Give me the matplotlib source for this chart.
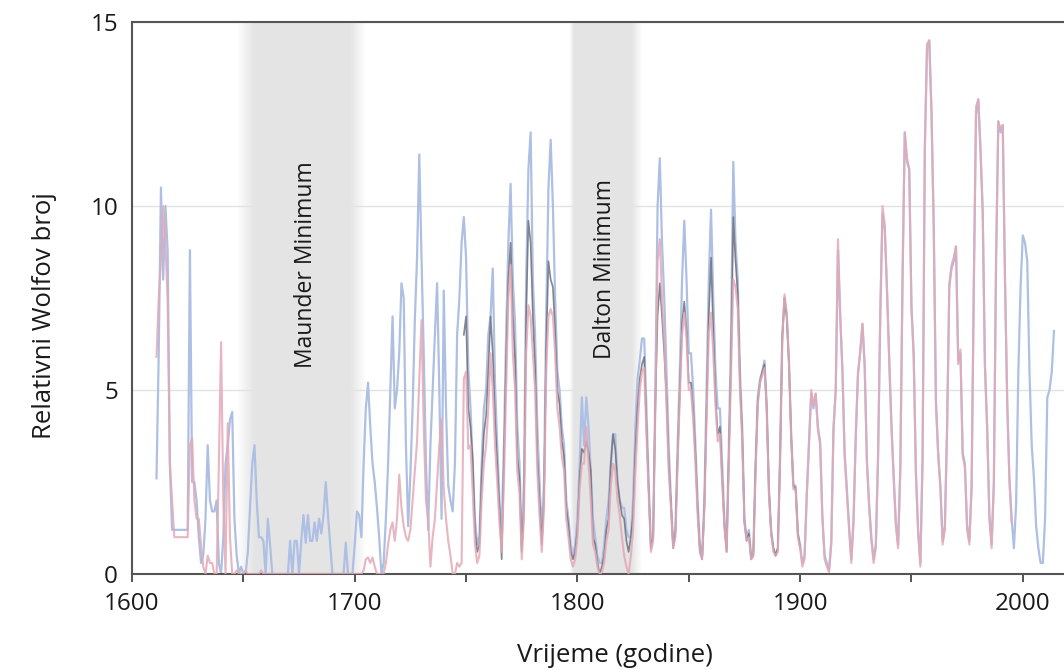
import numpy as np
import matplotlib
matplotlib.use("Agg")
import matplotlib.pyplot as plt

plt.rcParams['font.family'] = ['Open Sans', 'DejaVu Sans']

# group number, blue line, yearly, 1611-2014
plava = [
    2.6, 6.0, 10.5, 8.0, 10.0, 8.8, 3.0, 1.2, 1.2,            # 1611-1619
    1.2, 1.2, 1.2, 1.2, 1.2, 1.2, 8.8, 2.5, 2.5, 2.0,         # 1620
    1.0, 0.3, 0.5, 1.5, 3.5, 2.0, 1.7, 1.7, 2.0, 0.3,         # 1630
    0.0, 1.0, 3.0, 3.5, 4.2, 4.4, 1.5, 0.5, 0.0, 0.2,         # 1640
    0.0, 0.0, 0.6, 1.8, 3.0, 3.5, 2.0, 1.0, 1.0, 0.9,         # 1650
    0.0, 1.5, 0.8, 0.0, 0.0, 0.0, 0.0, 0.0, 0.0, 0.0,         # 1660
    0.0, 0.9, 0.0, 0.9, 0.9, 0.0, 0.9, 1.6, 0.85, 1.6,        # 1670
    0.9, 0.9, 1.4, 0.9, 1.5, 1.1, 1.6, 2.5, 1.6, 0.8,         # 1680
    0.0, 0.0, 0.0, 0.0, 0.0, 0.0, 0.85, 0.0, 0.0, 0.0,        # 1690
    0.8, 1.7, 1.6, 1.0, 3.0, 4.5, 5.2, 4.0, 3.0, 2.5,         # 1700
    1.8, 1.0, 0.0, 0.3, 1.5, 3.0, 5.0, 7.0, 4.5, 5.0,         # 1710
    6.0, 7.9, 7.5, 3.5, 1.3, 2.7, 4.5, 6.9, 8.6, 11.4,        # 1720
    8.6, 6.0, 3.0, 1.2, 3.5, 5.0, 6.5, 7.9, 5.0, 1.5,         # 1730
    7.7, 4.5, 2.4, 2.0, 1.7, 3.0, 6.5, 7.5, 9.0, 9.7,         # 1740
    8.6, 5.6, 4.5, 3.0, 1.5, 0.8, 1.0, 3.0, 4.5, 5.0,         # 1750
    6.5, 7.0, 8.3, 5.2, 3.5, 2.0, 1.2, 3.5, 6.5, 9.0,         # 1760
    10.6, 8.0, 6.8, 4.0, 3.0, 0.8, 2.5, 8.0, 11.0, 12.0,      # 1770
    8.0, 6.5, 4.0, 2.5, 1.0, 2.5, 7.0, 10.5, 11.8, 10.0,      # 1780
    7.5, 5.5, 5.0, 4.0, 3.5, 2.0, 1.5, 0.8, 0.5, 0.8,         # 1790
    1.5, 3.0, 4.8, 3.5, 4.8, 4.0, 2.8, 1.5, 1.0, 0.5,         # 1800
    0.3, 0.3, 0.8, 1.5, 2.0, 3.0, 3.8, 3.8, 2.5, 2.0,         # 1810
    1.8, 1.8, 1.2, 1.0, 1.0, 2.0, 4.0, 5.3, 5.8, 6.4,         # 1820
    6.4, 4.5, 2.5, 0.8, 1.0, 5.0, 10.0, 11.3, 9.0, 7.5,       # 1830
    5.5, 3.5, 2.0, 0.8, 1.2, 3.5, 5.5, 8.0, 9.6, 8.0,         # 1840
    6.0, 6.0, 5.0, 3.5, 2.0, 0.8, 0.5, 2.0, 5.0, 8.0,         # 1850
    9.9, 7.5, 5.5, 4.5, 4.5, 3.0, 1.5, 0.7, 3.5, 6.5,         # 1860
    11.2, 9.0, 8.0, 5.5, 4.0, 1.5, 1.0, 1.2, 0.5, 0.6,        # 1870
    3.0, 4.8, 5.3, 5.5, 5.8, 4.6, 2.3, 1.2, 0.7, 0.5,         # 1880
    0.7, 3.2, 6.5, 7.5, 7.0, 5.8, 3.8, 2.4, 2.4, 1.1,         # 1890
    0.8, 0.3, 0.5, 2.2, 3.6, 4.9, 4.5, 4.9, 4.0, 3.6,         # 1900
    1.6, 0.5, 0.3, 0.1, 0.9, 4.0, 5.0, 8.8, 7.0, 5.5,         # 1910
    3.3, 2.3, 1.3, 0.4, 1.5, 3.8, 5.5, 6.0, 6.8, 5.7,         # 1920
    3.1, 1.9, 1.0, 0.4, 0.8, 3.2, 7.0, 9.8, 9.4, 7.7,         # 1930
    5.9, 4.1, 2.7, 1.4, 0.8, 2.9, 8.0, 12.0, 11.2, 11.0,      # 1940
    7.3, 6.0, 2.8, 1.2, 0.3, 3.2, 11.5, 14.3, 14.5, 12.5,     # 1950
    9.5, 4.7, 3.3, 2.4, 0.9, 1.3, 4.0, 7.8, 8.3, 8.5,         # 1960
    8.9, 5.8, 6.0, 3.3, 3.0, 1.3, 0.9, 2.4, 7.8, 12.5,        # 1970
    12.9, 11.5, 9.8, 5.7, 4.0, 1.6, 0.8, 2.5, 8.5, 12.3,      # 1980
    12.0, 12.2, 8.0, 4.7, 2.6, 1.5, 0.7, 1.9, 5.5, 7.8,       # 1990
    9.2, 9.0, 8.5, 5.5, 3.5, 2.6, 1.3, 0.7, 0.3, 0.3,         # 2000
    1.5, 4.8, 5.0, 5.5, 6.6,                                  # 2010-2014
]

# pink line, 1611-1995
roza = [
    5.9, 7.5, 8.5, 10.0, 9.0, 7.4, 3.0, 2.0, 1.0,             # 1611-1619
    1.0, 1.0, 1.0, 1.0, 1.0, 1.0, 3.5, 3.7, 2.0, 1.5,         # 1620
    1.5, 0.8, 0.2, 0.0, 0.5, 0.3, 0.3, 0.0, 0.0, 3.0,         # 1630
    6.3, 2.0, 0.0, 4.1, 1.0, 0.0, 0.0, 0.1, 0.0, 0.0,         # 1640
    0.0, 0.1, 0.0, 0.0, 0.0, 0.0, 0.0, 0.0, 0.1, 0.0,         # 1650
    0.0, 0.0, 0.0, 0.0, 0.0, 0.0, 0.0, 0.0, 0.0, 0.0,         # 1660
    0.0, 0.0, 0.0, 0.0, 0.0, 0.0, 0.0, 0.0, 0.0, 0.0,         # 1670
    0.0, 0.0, 0.0, 0.0, 0.0, 0.0, 0.0, 0.0, 0.0, 0.0,         # 1680
    0.0, 0.0, 0.0, 0.0, 0.0, 0.0, 0.0, 0.0, 0.0, 0.0,         # 1690
    0.0, 0.0, 0.0, 0.0, 0.1, 0.4, 0.45, 0.3, 0.45, 0.2,       # 1700
    0.0, 0.0, 0.0, 0.0, 0.3, 0.8, 1.2, 1.4, 0.9, 1.5,         # 1710
    2.7, 1.8, 1.3, 1.0, 0.9, 1.2, 2.0, 2.8, 3.6, 5.3,         # 1720
    6.9, 4.0, 2.0, 1.5, 0.2, 1.0, 1.5, 2.5, 3.5, 4.2,         # 1730
    2.3, 1.5, 0.9, 0.5, 0.0, 0.0, 0.3, 0.2, 0.3, 5.3,         # 1740
    5.5, 3.4, 3.5, 2.2, 0.8, 0.3, 0.5, 2.0, 3.0, 3.5,         # 1750
    4.5, 6.0, 5.0, 3.5, 2.5, 1.4, 0.6, 2.5, 5.0, 7.5,         # 1760
    8.4, 6.0, 5.0, 2.8, 2.2, 0.4, 1.5, 6.0, 7.3, 7.0,         # 1770
    6.0, 5.0, 2.8, 1.6, 0.6, 1.8, 5.5, 7.0, 7.2, 7.0,         # 1780
    6.0, 4.5, 4.0, 3.2, 2.8, 1.5, 1.0, 0.4, 0.2, 0.4,         # 1790
    1.0, 2.3, 3.0, 3.0, 4.0, 3.0, 2.0, 0.8, 0.6, 0.2,         # 1800
    0.0, 0.05, 0.3, 0.9, 1.2, 2.4, 3.0, 2.8, 2.0, 1.6,        # 1810
    1.0, 0.5, 0.2, 0.0, 0.5, 1.2, 2.8, 4.0, 5.0, 5.5,         # 1820
    5.6, 3.8, 2.2, 0.6, 0.9, 4.5, 8.5, 9.1, 7.5, 6.4,         # 1830
    4.6, 2.8, 1.8, 0.7, 1.0, 3.0, 4.8, 6.5, 7.1, 6.4,         # 1840
    5.0, 5.0, 4.2, 3.0, 1.6, 0.6, 0.4, 1.7, 4.2, 6.5,         # 1850
    7.1, 6.0, 4.6, 3.6, 3.8, 2.5, 1.3, 0.6, 3.0, 5.5,         # 1860
    8.0, 7.8, 7.2, 5.0, 3.6, 1.4, 0.9, 1.0, 0.4, 0.5,         # 1870
    2.8, 4.6, 5.2, 5.4, 5.6, 4.5, 2.2, 1.1, 0.6, 0.5,         # 1880
    0.6, 3.1, 6.4, 7.6, 7.1, 5.7, 3.7, 2.3, 2.3, 1.0,         # 1890
    0.7, 0.2, 0.4, 2.1, 3.5, 5.0, 4.6, 4.9, 3.9, 3.5,         # 1900
    1.5, 0.4, 0.2, 0.05, 0.8, 3.9, 5.0, 9.1, 7.1, 5.6,        # 1910
    3.2, 2.2, 1.2, 0.3, 1.4, 3.7, 5.4, 6.1, 6.8, 5.6,         # 1920
    3.0, 1.8, 0.9, 0.3, 0.7, 3.1, 7.1, 10.0, 9.5, 7.8,        # 1930
    5.8, 4.0, 2.6, 1.3, 0.7, 2.8, 8.1, 12.0, 11.3, 11.0,      # 1940
    7.2, 5.9, 2.7, 1.1, 0.2, 3.1, 11.6, 14.4, 14.5, 12.6,     # 1950
    9.4, 4.6, 3.2, 2.3, 0.8, 1.2, 3.9, 7.9, 8.4, 8.6,         # 1960
    8.9, 5.7, 6.1, 3.2, 2.9, 1.2, 0.8, 2.3, 7.9, 12.7,        # 1970
    12.9, 11.6, 9.9, 5.6, 3.9, 1.5, 0.7, 2.4, 8.6, 12.3,      # 1980
    12.1, 12.2, 8.1, 4.6, 2.5, 1.4,                           # 1990-1995
]

# dark grey line, 1749-1900
siva = [
    6.5,                                                      # 1749
    7.0, 4.5, 4.0, 3.1, 1.2, 0.6, 0.8, 2.6, 3.8, 4.3,         # 1750
    5.5, 7.0, 6.0, 4.2, 3.0, 1.8, 0.4, 3.0, 5.8, 8.0,         # 1760
    9.0, 7.0, 5.8, 3.2, 2.6, 0.6, 1.8, 7.0, 9.6, 9.0,         # 1770
    7.0, 5.6, 3.2, 2.0, 0.8, 2.0, 6.2, 8.5, 8.0, 7.8,         # 1780
    6.6, 5.0, 4.6, 3.6, 3.2, 1.8, 1.3, 0.6, 0.4, 0.6,         # 1790
    1.2, 2.6, 3.4, 3.3, 3.6, 3.3, 2.8, 1.0, 0.8, 0.3,         # 1800
    0.0, 0.2, 0.5, 1.2, 1.5, 3.0, 3.8, 3.4, 2.5, 2.0,         # 1810
    1.6, 1.5, 0.9, 0.6, 1.0, 1.6, 3.3, 4.5, 5.3, 5.7,         # 1820
    5.9, 4.0, 2.3, 0.7, 1.0, 4.6, 7.0, 7.9, 7.0, 6.0,         # 1830
    4.8, 3.0, 1.9, 0.7, 1.1, 3.1, 5.0, 6.8, 7.4, 6.6,         # 1840
    5.2, 5.2, 4.4, 3.2, 1.7, 0.6, 0.4, 1.8, 4.4, 7.0,         # 1850
    8.6, 6.6, 4.8, 3.8, 4.0, 2.6, 1.3, 0.6, 3.2, 5.8,         # 1860
    9.7, 8.5, 7.6, 5.2, 3.8, 1.4, 0.9, 1.1, 0.4, 0.5,         # 1870
    2.9, 4.7, 5.2, 5.5, 5.7, 4.5, 2.3, 1.1, 0.7, 0.5,         # 1880
    0.7, 3.1, 6.4, 7.5, 7.0, 5.7, 3.7, 2.4, 2.3, 1.1,         # 1890
    0.7,                                                      # 1900
]

god_plava = np.arange(1611, 1611 + len(plava))
god_roza = np.arange(1611, 1611 + len(roza))
god_siva = np.arange(1749, 1749 + len(siva))

# minimumi: pocetak, puna siva, kraj, polozaj natpisa
minimumi = [
    ("Maunder Minimum", 1647, 1655, 1698, 1705, 1678, 8.4),
    ("Dalton Minimum", 1796.5, 1798.5, 1824.5, 1829, 1812.5, 8.3),
]

fig = plt.figure(figsize=(10.64, 6.70), dpi=100)
ax = fig.add_axes([132/1064, 1 - 574/670, 1 - 132/1064, (574 - 22)/670])

# sjencanje s mekim rubovima
xs = np.linspace(1600, 2020, 2000)
for naziv, a, b, c, d, tx, ty in minimumi:
    alpha = np.interp(xs, [a, b, c, d], [0, 1, 1, 0], left=0, right=0)
    img = np.zeros((1, len(xs), 4))
    img[..., :3] = 0.895
    img[0, :, 3] = alpha
    ax.imshow(img, extent=(1600, 2020, 0, 15), aspect='auto', zorder=1,
              interpolation='bilinear')
    ax.text(tx, ty, naziv, rotation=90, ha='center', va='center',
            fontsize=16.5, color='#1a1a1a', zorder=5)

ax.plot(god_plava, plava, color='#aebfe4', lw=1.6, zorder=2)
ax.plot(god_siva, siva, color='#6e717c', lw=1.2, alpha=0.85, zorder=3)
ax.plot(god_roza, roza, color='#e3a9b6', lw=1.5, alpha=0.85, zorder=4)

ax.set_xlim(1600, 2018.5)
ax.set_ylim(0, 15)
ax.set_yticks([0, 5, 10, 15])
ax.set_xticks(range(1600, 2001, 50))
ax.set_xticklabels([str(g) if g % 100 == 0 else '' for g in range(1600, 2001, 50)])
ax.grid(axis='y', color='#e2e2e2', lw=1, zorder=0)
ax.set_axisbelow(True)

for s in ['left', 'top', 'bottom']:
    ax.spines[s].set_color('#555555')
    ax.spines[s].set_linewidth(1.5)
ax.spines['right'].set_visible(False)
ax.tick_params(axis='x', direction='out', length=6, width=1.3, color='#444444',
               labelsize=17.5, pad=7, labelcolor='#1a1a1a')
ax.tick_params(axis='y', length=0, labelsize=17.5, pad=10, labelcolor='#1a1a1a')

fig.text(45/1064, 1 - 316/670, 'Relativni Wolfov broj', rotation=90,
         ha='center', va='center', fontsize=18.5, color='#1a1a1a')
fig.text(615/1064, 1 - 655/670, 'Vrijeme (godine)', ha='center', va='center',
         fontsize=18.5, color='#1a1a1a')

fig.savefig('out.png', dpi=100)
